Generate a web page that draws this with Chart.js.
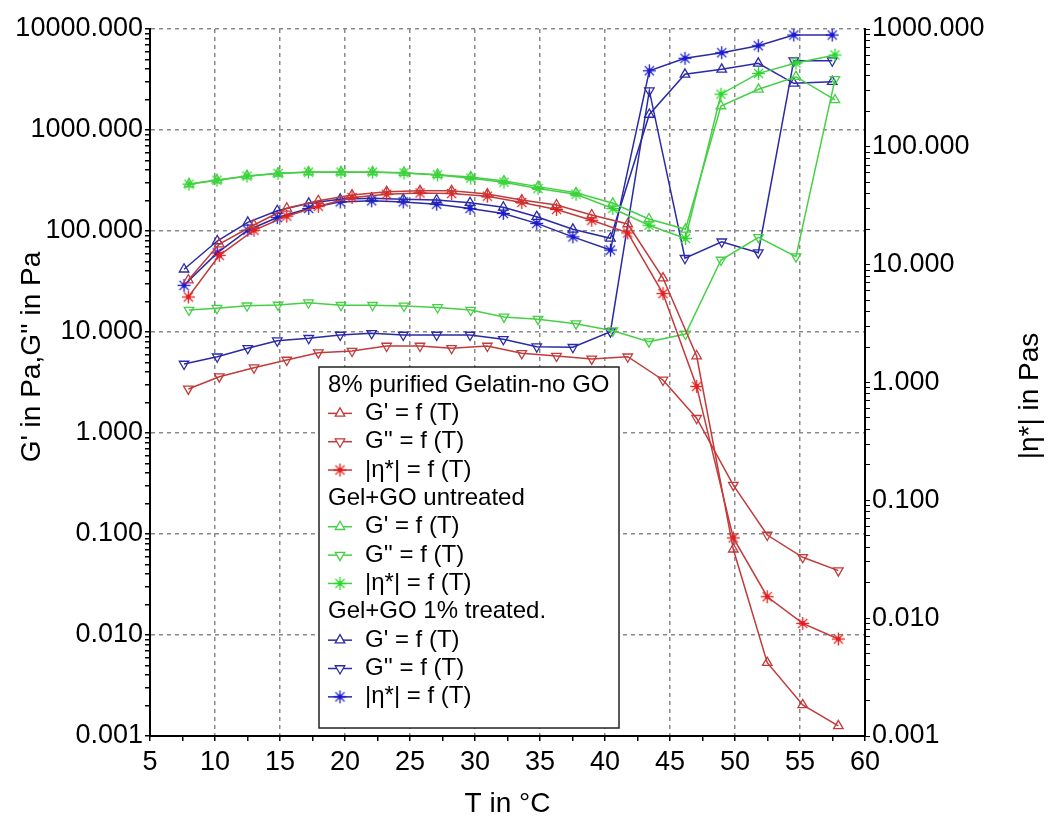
<!DOCTYPE html>
<html>
<head>
<meta charset="utf-8">
<script src="https://cdn.jsdelivr.net/npm/chart.js@4.4.0/dist/chart.umd.min.js"></script>
<style>
  html, body { margin: 0; padding: 0; background: #fff; }
  #wrap { width: 1059px; height: 826px; position: relative; }
</style>
</head>
<body>
<div id="wrap"><canvas id="rheo"></canvas></div>
<script>
// temperatures (°C) and moduli / viscosity
const tempGel = [7.95, 10.33, 13.0, 15.52, 17.95, 20.54, 23.2, 25.77, 28.2, 30.95, 33.6, 36.27, 38.98, 41.75, 44.46, 47.05, 49.87, 52.48, 55.21, 57.95];
const gelGp   = [32.7, 74.3, 114.6, 167.8, 199.5, 227, 245, 250.6, 250.6, 232, 202.8, 180.8, 144, 117.3, 34.2, 5.78, 0.0706, 0.00532, 0.00203, 0.00126];
const gelGpp  = [2.73, 3.61, 4.43, 5.28, 6.24, 6.48, 7.27, 7.27, 6.90, 7.27, 6.15, 5.78, 5.41, 5.69, 3.35, 1.40, 0.305, 0.0977, 0.0588, 0.0434];
const gelEta  = [5.32, 12.0, 19.6, 25.8, 31.3, 37.2, 39.6, 40.6, 40.2, 38.1, 33.7, 29.4, 23.8, 18.6, 5.68, 0.927, 0.048, 0.0152, 0.00903, 0.00665];

const tempUntr = [8.0, 10.15, 12.46, 14.85, 17.19, 19.69, 22.12, 24.54, 27.12, 29.67, 32.23, 34.85, 37.77, 40.6, 43.38, 46.19, 48.92, 51.81, 54.69, 57.69];
const untrGp   = [292, 320, 351, 373, 384, 384, 384, 378, 361, 343, 313, 275, 239, 188, 131.5, 103.9, 1729, 2529, 3371, 1983];
const untrGpp  = [16.5, 17.2, 18.2, 18.5, 19.5, 18.4, 18.4, 18.1, 17.5, 16.5, 14.1, 13.4, 12.1, 10.3, 8.02, 9.55, 51.6, 86.6, 55.7, 3177];
const untrEta  = [48.2, 52.1, 56.4, 59.4, 61.0, 61.0, 61.0, 60.1, 57.8, 54.2, 50.1, 44.3, 39.6, 30.0, 21.6, 16.7, 280, 420, 514, 601];

const tempTreat = [7.62, 10.17, 12.52, 14.79, 17.21, 19.63, 22.05, 24.48, 27.05, 29.62, 32.18, 34.75, 37.53, 40.42, 43.41, 46.15, 48.98, 51.79, 54.52, 57.48];
const treatGp   = [41.8, 79.6, 121.9, 158.8, 188, 206, 210.8, 206, 202.8, 190.6, 171.7, 138.6, 103.9, 84.7, 1424, 3559, 3990, 4574, 2899, 3008];
const treatGpp  = [4.82, 5.69, 6.90, 8.20, 8.67, 9.34, 9.71, 9.34, 9.34, 9.34, 8.47, 7.15, 7.06, 10.07, 2449, 53.7, 78.3, 61.0, 4853, 4853];
const treatEta  = [6.68, 12.6, 19.6, 25.1, 30.0, 34.1, 34.8, 34.1, 32.6, 30.0, 27.2, 22.4, 17.2, 13.3, 442, 564, 629, 721, 889, 889];

const groupNames = ['8% purified Gelatin-no GO', 'Gel+GO untreated', 'Gel+GO 1% treated.'];
const itemNames = ["G' = f (T)", "G'' = f (T)", '|\u03b7*| = f (T)'];

const FONT = "'Liberation Sans', Arial, sans-serif";
const GRID = '#8a8a8a';

Chart.defaults.font.family = FONT;
Chart.defaults.color = '#000';

function starImage(color) {
    const c = document.createElement('canvas');
    c.width = 15; c.height = 15;
    const g = c.getContext('2d');
    g.strokeStyle = color;
    g.lineWidth = 1.3;
    for (let i = 0; i < 4; i++) {
        const a = i * Math.PI / 4;
        g.beginPath();
        g.moveTo(7.5 - 6.5 * Math.cos(a), 7.5 - 6.5 * Math.sin(a));
        g.lineTo(7.5 + 6.5 * Math.cos(a), 7.5 + 6.5 * Math.sin(a));
        g.stroke();
    }
    g.fillStyle = color;
    g.beginPath();
    g.arc(7.5, 7.5, 2.4, 0, Math.PI * 2);
    g.fill();
    return c;
}

function series(group, item, xs, ys, line, mark, axis) {
    const ds = {
        label: groupNames[group] + ' ' + itemNames[item],
        group, item,
        data: xs.map((x, i) => ({ x, y: ys[i] })),
        yAxisID: axis,
        borderColor: line,
        borderWidth: 1.5,
        tension: 0,
        pointRadius: 5.5,
        pointBorderWidth: 1.3,
        pointBorderColor: line,
        pointBackgroundColor: 'rgba(255,255,255,0)',
        markColor: mark
    };
    if (item === 0) { ds.pointStyle = 'triangle'; ds.pointRotation = 0; }
    if (item === 1) { ds.pointStyle = 'triangle'; ds.pointRotation = 180; }
    if (item === 2) { ds.pointStyle = starImage(mark); ds.pointRadius = 7; }
    return ds;
}

const RED = '#c23a3a', RED_M = '#e81c1c';
const GREEN = '#45d045', GREEN_M = '#2ad82a';
const BLUE = '#2a2aa6', BLUE_M = '#1a1ad2';

const datasets = [
    series(0, 0, tempGel, gelGp, RED, RED_M, 'y'),
    series(0, 1, tempGel, gelGpp, RED, RED_M, 'y'),
    series(0, 2, tempGel, gelEta, RED, RED_M, 'y2'),
    series(1, 0, tempUntr, untrGp, GREEN, GREEN_M, 'y'),
    series(1, 1, tempUntr, untrGpp, GREEN, GREEN_M, 'y'),
    series(1, 2, tempUntr, untrEta, GREEN, GREEN_M, 'y2'),
    series(2, 0, tempTreat, treatGp, BLUE, BLUE_M, 'y'),
    series(2, 1, tempTreat, treatGpp, BLUE, BLUE_M, 'y'),
    series(2, 2, tempTreat, treatEta, BLUE, BLUE_M, 'y2')
];

function isDecade(v) {
    const l = Math.log10(v);
    return Math.abs(l - Math.round(l)) < 1e-9;
}

function logTicks(minExp, maxExp) {
    const out = [];
    for (let e = minExp; e < maxExp; e++) {
        for (let m = 1; m <= 9; m++) out.push({ value: +(m * Math.pow(10, e)).toPrecision(6) });
    }
    out.push({ value: Math.pow(10, maxExp) });
    return out;
}

function drawMarker(ctx, ds, x, y) {
    ctx.strokeStyle = ds.borderColor;
    ctx.lineWidth = 1.3;
    if (ds.item === 2) {
        ctx.drawImage(ds.pointStyle, x - 7.5, y - 7.5);
        return;
    }
    const r = 5.5;
    const dir = ds.item === 0 ? -1 : 1;
    ctx.beginPath();
    ctx.moveTo(x, y + dir * r);
    ctx.lineTo(x + r * 0.866, y - dir * r * 0.5);
    ctx.lineTo(x - r * 0.866, y - dir * r * 0.5);
    ctx.closePath();
    ctx.fillStyle = '#fff';
    ctx.fill();
    ctx.stroke();
}

// grouped legend box inside the plot plus the two rotated axis titles
const extras = {
    id: 'extras',
    afterDraw(chart) {
        const ctx = chart.ctx;
        ctx.save();
        const bx = 319, by = 367, bw = 300, bh = 361;
        ctx.fillStyle = '#fff';
        ctx.fillRect(bx, by, bw, bh);
        ctx.strokeStyle = '#222';
        ctx.lineWidth = 1.5;
        ctx.strokeRect(bx, by, bw, bh);

        ctx.font = '24px ' + FONT;
        ctx.textBaseline = 'middle';
        ctx.textAlign = 'left';
        let row = 0;
        const rowY = i => by + 18 + i * 28.35;
        groupNames.forEach((name, g) => {
            ctx.fillStyle = '#000';
            ctx.fillText(name, bx + 9, rowY(row++));
            chart.data.datasets.filter(d => d.group === g).forEach(ds => {
                const y = rowY(row++);
                ctx.strokeStyle = ds.borderColor;
                ctx.lineWidth = 1.5;
                ctx.beginPath();
                ctx.moveTo(bx + 9, y);
                ctx.lineTo(bx + 33, y);
                ctx.stroke();
                drawMarker(ctx, ds, bx + 21, y);
                ctx.fillStyle = '#000';
                ctx.fillText(itemNames[ds.item], bx + 46, y);
            });
        });

        ctx.font = '28px ' + FONT;
        ctx.textAlign = 'center';
        ctx.fillStyle = '#000';
        ctx.translate(32, 357);
        ctx.rotate(-Math.PI / 2);
        ctx.fillText("G' in Pa,G'' in Pa", 0, 0);
        ctx.setTransform(1, 0, 0, 1, 0, 0);
        ctx.translate(1030, 396);
        ctx.rotate(-Math.PI / 2);
        ctx.fillText('|\u03b7*| in Pas', 0, 0);
        ctx.restore();
    }
};

new Chart(document.getElementById('rheo'), {
    type: 'line',
    data: { datasets },
    plugins: [extras],
    options: {
        responsive: true,
        maintainAspectRatio: false,
        animation: false,
        layout: { padding: { top: 29, left: 0, right: 0, bottom: 0 } },
        plugins: { legend: { display: false }, tooltip: { enabled: false } },
        scales: {
            x: {
                type: 'linear',
                min: 5, max: 60,
                afterFit: s => { s.height = 90; },
                ticks: {
                    stepSize: 2.5,
                    autoSkip: false,
                    maxRotation: 0,
                    padding: 5,
                    font: { size: 27 },
                    callback: v => (v % 5 === 0 ? String(v) : '')
                },
                grid: {
                    color: c => (c.tick && c.tick.value % 5 === 0 ? GRID : 'rgba(0,0,0,0)'),
                    lineWidth: 1.5,
                    tickColor: '#000',
                    tickLength: 5
                },
                border: { color: '#000', width: 2, dash: [4, 4] },
                title: { display: true, text: 'T in \u00b0C', font: { size: 28 }, padding: { top: 0, bottom: 5 } }
            },
            y: {
                type: 'logarithmic',
                position: 'left',
                min: 0.001, max: 10000,
                afterFit: s => { s.width = 150; },
                afterBuildTicks: s => { s.ticks = logTicks(-3, 4); },
                ticks: {
                    autoSkip: false,
                    padding: 2,
                    font: { size: 27 },
                    callback: v => (isDecade(v) ? v.toFixed(3) : '')
                },
                grid: {
                    color: c => (c.tick && isDecade(c.tick.value) ? GRID : 'rgba(0,0,0,0)'),
                    lineWidth: 1.5,
                    tickColor: '#000',
                    tickLength: 5
                },
                border: { color: '#000', width: 2, dash: [4, 4] }
            },
            y2: {
                type: 'logarithmic',
                position: 'right',
                min: 0.001, max: 1000,
                afterFit: s => { s.width = 194; },
                afterBuildTicks: s => { s.ticks = logTicks(-3, 3); },
                ticks: {
                    autoSkip: false,
                    padding: 2,
                    font: { size: 27 },
                    callback: v => (isDecade(v) ? v.toFixed(3) : '')
                },
                grid: {
                    drawOnChartArea: false,
                    tickColor: '#000',
                    tickLength: 5
                },
                border: { color: '#000', width: 2 }
            }
        }
    }
});
</script>
</body>
</html>
